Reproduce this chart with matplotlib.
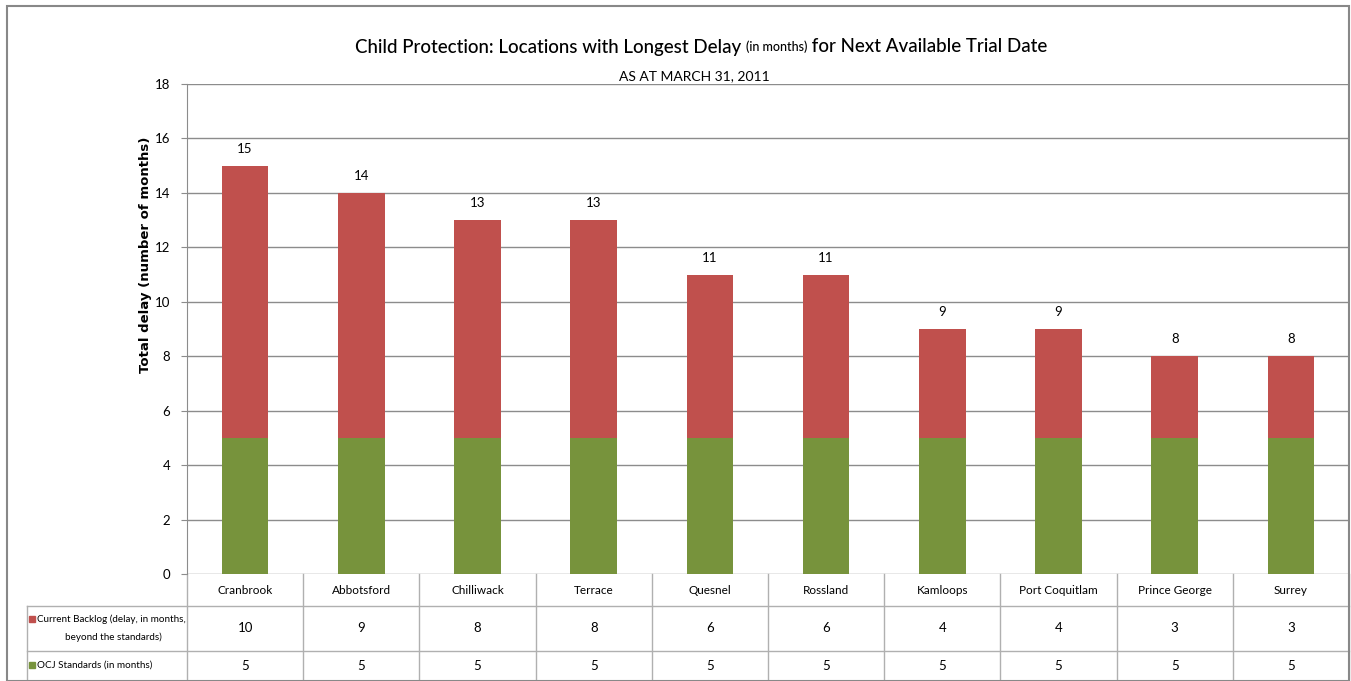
import matplotlib.pyplot as plt
from matplotlib.patches import Rectangle

locations = ['Cranbrook', 'Abbotsford', 'Chilliwack', 'Terrace', 'Quesnel',
             'Rossland', 'Kamloops', 'Port Coquitlam', 'Prince George', 'Surrey']
backlog = [10, 9, 8, 8, 6, 6, 4, 4, 3, 3]
standards = [5, 5, 5, 5, 5, 5, 5, 5, 5, 5]
yticks = [0, 2, 4, 6, 8, 10, 12, 14, 16, 18]

red = '#C0504D'
green = '#77933C'
grid = '#8c8c8c'

plt.rcParams['font.family'] = ['Lato', 'DejaVu Sans']

W, H = 1351, 681
fig = plt.figure(figsize=(W / 100, H / 100), dpi=100)
renderer = fig.canvas.get_renderer()

# outer chart frame
fig.patches.append(Rectangle((7 / W, 0), (1349 - 7) / W, (H - 6) / H, transform=fig.transFigure,
                             fill=False, edgecolor='#888888', lw=1.5))

x0, x1, y0, y1 = 187, 1349, 574, 84
ax = fig.add_axes([x0 / W, (H - y0) / H, (x1 - x0) / W, (y0 - y1) / H])
n = len(locations)
xs = list(range(n))
ax.bar(xs, standards, 0.4, color=green, zorder=3)
tot = [s + b for s, b in zip(standards, backlog)]
ax.bar(xs, backlog, 0.4, bottom=standards, color=red, zorder=3)
for x, t in zip(xs, tot):
    ax.text(x, t + 0.4, str(t), ha='center', va='bottom', fontsize=9.5)

ax.set_xlim(-0.5, n - 0.5)
ax.set_ylim(0, 18)
ax.set_yticks(yticks)
ax.tick_params(axis='y', length=4, color=grid, labelsize=9.5, pad=8)
ax.set_xticks([])
ax.yaxis.grid(True, color=grid, lw=1, zorder=0)
for s in ['top', 'right', 'bottom']:
    ax.spines[s].set_visible(False)
ax.spines['left'].set_color(grid)

# data table under the plot, in data units (pixels -> data)
ppu = (y0 - y1) / 18.0
cw = (x1 - x0) / n
def py(p):
    return (y0 - p) / ppu
def px(p):
    return -0.5 + (p - x0) / cw

lc = '#b0b0b0'
for yy in [606, 651]:
    ax.plot([px(27), n - 0.5], [py(yy), py(yy)], color=lc, lw=1, clip_on=False)
ax.plot([px(27), px(27)], [py(606), py(681)], color=lc, lw=1, clip_on=False)
for i in range(n + 1):
    ax.plot([i - 0.5, i - 0.5], [py(574), py(681)], color=lc, lw=1, clip_on=False)

for i, name in enumerate(locations):
    ax.text(i, py(590), name, ha='center', va='center', fontsize=8.5)
    ax.text(i, py(628.5), str(backlog[i]), ha='center', va='center', fontsize=9.5)
    ax.text(i, py(666), str(standards[i]), ha='center', va='center', fontsize=9.5)

ax.text(px(37), py(619), 'Current Backlog (delay, in months,', ha='left', va='center', fontsize=7.1)
ax.text(px(113), py(637), 'beyond the standards)', ha='center', va='center', fontsize=7.1)
ax.text(px(37), py(665), 'OCJ Standards (in months)', ha='left', va='center', fontsize=7.1)
ax.plot([px(32)], [py(619)], marker='s', ms=5, color=red, clip_on=False)
ax.plot([px(32)], [py(665)], marker='s', ms=5, color=green, clip_on=False)

fig.text(145 / W, 1 - 255 / H, 'Total delay (number of months)', rotation=90,
         ha='center', va='center', fontsize=9.5, fontweight='bold', family='DejaVu Sans')

# title composed of pieces of two sizes
parts = [('Child Protection: Locations with Longest Delay ', 13.5),
         ('(in months)', 9),
         (' for Next Available Trial Date', 13.5)]
widths = []
for s, fs in parts:
    tt = fig.text(0, 0, s, fontsize=fs, fontweight='medium')
    widths.append(tt.get_window_extent(renderer).width)
    tt.remove()
xpos = 701 - sum(widths) / 2
for (s, fs), w in zip(parts, widths):
    fig.text(xpos / W, 1 - 47 / H, s, fontsize=fs, va='center', fontweight='medium')
    xpos += w
fig.text(694 / W, 1 - 76 / H, 'AS AT MARCH 31, 2011', ha='center', va='center', fontsize=10)

fig.savefig('out.png', dpi=100)
